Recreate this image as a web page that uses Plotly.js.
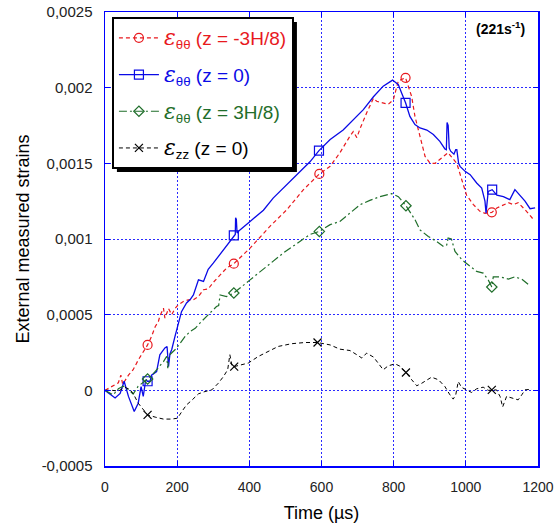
<!DOCTYPE html>
<html>
<head>
<meta charset="utf-8">
<script src="https://cdn.plot.ly/plotly-3.0.1.min.js"></script>
<style>
  html, body { margin: 0; padding: 0; background: #fff; }
  #chart { width: 559px; height: 529px; }
</style>
</head>
<body>
<div id="chart"></div>
<script>
// ---------- data (time in µs, strain) ----------
var xRed = [0,37,44,49,65,78,92,106,118,129,139,148,152,162,166,176,185,194,203,217,231,245,259,273,286,300,319,337,357,402,457,504,550,594,624,651,679,688,698,707,725,744,753,771,785,799,808,813,833,841,850,859,868,878,887,901,915,933,951,961,975,989,1002,1021,1039,1053,1072,1086,1104,1118,1132,1145,1164,1187];
var yRed = [0,0.5e-4,1.0e-4,0.4e-4,1.0e-4,1.36e-4,2.0e-4,2.57e-4,3.0e-4,3.56e-4,4.2e-4,4.55e-4,4.9e-4,5.43e-4,4.77e-4,5.4e-4,5.0e-4,5.4e-4,5.65e-4,5.87e-4,5.98e-4,5.98e-4,6.2e-4,6.65e-4,6.7e-4,7.13e-4,7.6e-4,8.08e-4,8.37e-4,9.4e-4,10.83e-4,11.94e-4,13.26e-4,14.3e-4,14.8e-4,15.7e-4,16.8e-4,17.1e-4,16.7e-4,17.3e-4,18.33e-4,19.3e-4,19.1e-4,19.0e-4,18.9e-4,19.2e-4,20.0e-4,20.45e-4,20.65e-4,20.1e-4,19.4e-4,18.1e-4,17.2e-4,16.35e-4,15.46e-4,15.0e-4,15.0e-4,15.36e-4,15.7e-4,15.4e-4,15.0e-4,13.9e-4,12.9e-4,12.27e-4,11.83e-4,11.7e-4,11.76e-4,12.05e-4,12.27e-4,12.4e-4,12.27e-4,12.4e-4,11.94e-4,11.3e-4];
var markRed = [118,357,594,833,1072];

var xBlue = [0,28,42,53,65,81,92,100,106,113,118,125,129,143,152,166,172,176,180,185,194,203,212,226,236,245,259,273,286,300,314,328,345,357,361,362,364,366,374,402,439,466,504,540,568,593,624,660,688,716,744,771,797,813,822,833,845,859,873,892,910,928,942,946,948,951,954,958,967,972,975,980,984,998,1012,1030,1044,1053,1056,1062,1073,1086,1104,1122,1136,1150,1164,1178,1192];
var yBlue = [0,-0.5e-4,-0.2e-4,0.6e-4,-0.4e-4,-1.4e-4,-0.85e-4,0.25e-4,-0.4e-4,0.7e-4,0.6e-4,0.6e-4,1.0e-4,1.24e-4,2.35e-4,2.8e-4,2.9e-4,1.57e-4,2.4e-4,2.7e-4,3.56e-4,4.33e-4,5.2e-4,5.77e-4,6.0e-4,6.3e-4,7.3e-4,7.2e-4,8.0e-4,8.4e-4,8.85e-4,9.3e-4,9.8e-4,10.24e-4,10.3e-4,11.4e-4,11.3e-4,10.4e-4,10.6e-4,11.16e-4,11.9e-4,12.7e-4,13.6e-4,14.5e-4,15.1e-4,15.84e-4,16.57e-4,17.2e-4,17.9e-4,18.55e-4,19.4e-4,20.1e-4,20.5e-4,20.2e-4,19.65e-4,19.0e-4,18.1e-4,17.56e-4,17.34e-4,17.2e-4,16.9e-4,16.45e-4,15.95e-4,15.9e-4,17.7e-4,17.5e-4,16.0e-4,15.8e-4,15.6e-4,15.9e-4,15.9e-4,15.0e-4,14.8e-4,14.47e-4,14.25e-4,13.7e-4,13.37e-4,12.5e-4,11.7e-4,13.15e-4,13.26e-4,12.9e-4,12.8e-4,12.6e-4,13.26e-4,12.9e-4,12.5e-4,12.0e-4,12.05e-4];
var markBlue = [118,357,593,833,1073];

var xGreen = [0,23,37,51,65,78,92,111,118,134,148,162,171,174,177,194,208,222,236,250,263,277,291,309,315,319,337,357,402,448,494,540,568,594,624,651,679,707,734,762,795,813,834,859,873,896,919,938,947,951,960,970,989,1007,1030,1048,1062,1072,1076,1095,1118,1136,1155,1178];
var yGreen = [0,-0.3e-4,0.1e-4,0.27e-4,0.05e-4,-0.25e-4,0.27e-4,0.6e-4,0.75e-4,1.1e-4,1.47e-4,1.9e-4,2.24e-4,1.47e-4,2.3e-4,2.68e-4,3.1e-4,3.56e-4,3.89e-4,4.1e-4,4.44e-4,4.77e-4,5.1e-4,5.54e-4,5.6e-4,6.3e-4,6.2e-4,6.43e-4,7.3e-4,8.2e-4,9.07e-4,9.84e-4,10.3e-4,10.5e-4,10.95e-4,11.16e-4,11.7e-4,12.27e-4,12.55e-4,12.8e-4,13.0e-4,12.8e-4,12.2e-4,11.28e-4,10.6e-4,10.17e-4,9.84e-4,9.5e-4,9.6e-4,10.07e-4,10.0e-4,9.18e-4,8.63e-4,8.3e-4,7.86e-4,7.75e-4,7.3e-4,6.83e-4,7.5e-4,7.5e-4,7.35e-4,7.5e-4,7.35e-4,6.9e-4];
var markGreen = [118,357,594,834,1072];

var xBlack = [0,20,37,55,70,80,92,106,118,139,162,185,201,213,226,240,259,277,296,314,328,340,344,346,349,352,358,379,397,425,453,480,517,554,589,624,651,679,698,712,725,744,757,771,785,804,817,834,850,864,878,892,905,924,942,956,965,972,979,988,1002,1016,1030,1048,1062,1072,1085,1095,1102,1113,1132,1145,1155,1164,1183];
var yBlack = [0,0,-0.05e-4,0.2e-4,0.05e-4,-0.3e-4,-0.85e-4,-1.3e-4,-1.62e-4,-1.77e-4,-1.9e-4,-1.9e-4,-1.84e-4,-1.4e-4,-0.96e-4,-0.67e-4,-0.23e-4,-0.08e-4,0.03e-4,0.47e-4,0.9e-4,1.36e-4,2.0e-4,2.35e-4,2.0e-4,1.6e-4,1.57e-4,1.69e-4,1.8e-4,2.24e-4,2.57e-4,2.9e-4,3.08e-4,3.16e-4,3.16e-4,3.0e-4,2.72e-4,2.63e-4,2.35e-4,2.13e-4,2.46e-4,2.2e-4,1.8e-4,1.36e-4,1.62e-4,1.75e-4,1.6e-4,1.18e-4,0.7e-4,0.3e-4,0.47e-4,0.7e-4,0.87e-4,0.7e-4,0.25e-4,-0.3e-4,-0.58e-4,-0.3e-4,0.58e-4,0.2e-4,0.03e-4,-0.14e-4,0.1e-4,0.21e-4,0,0.03e-4,0.03e-4,-0.41e-4,-1.1e-4,-0.4e-4,-0.52e-4,-0.63e-4,-0.3e-4,0.03e-4,0.08e-4];
var markBlack = [118,358,589,834,1072];

var seriesNames = [
  '(z = -3H/8)', '(z = 0)', '(z = 3H/8)', '(z = 0)'
];
var seriesSubs = ['θθ','θθ','θθ','zz'];

var xTickVals = [0,200,400,600,800,1000,1200];
var xTickText = ['0','200','400','600','800','1000','1200'];
var yTickVals = [-0.0005,0,0.0005,0.001,0.0015,0.002,0.0025];
var yTickText = ['-0,0005','0','0,0005','0,001','0,0015','0,002','0,0025'];

var rateLabel = '(221s<sup>-1</sup>)';
var xTitle = 'Time (µs)';
var yTitle = 'External measured strains';

// ---------- styling ----------
var FONT = 'Liberation Sans, Arial, sans-serif';
var cRed = '#e8191e', cBlue = '#0a0ae6', cGreen = '#1f6e2a', cBlack = '#000000';
var gridCol = '#2a2aff';

function idx(xs, marks) {
  return marks.map(function (m) { return xs.indexOf(m); });
}
function label(i, col) {
  return '<span style="color:' + col + '"><span style="font-size:22px;font-family:DejaVu Serif"><i>ε</i></span><sub>' +
    seriesSubs[i] + '</sub> ' + seriesNames[i] + '</span>';
}
function trace(xs, ys, marks, i, col, dash, sym, msize) {
  return {
    type: 'scatter', mode: 'lines+markers',
    x: xs, y: ys,
    name: label(i, col),
    legendgroup: 'g' + i,
    line: { color: col, width: 1.2, dash: dash },
    marker: { symbol: sym, size: msize, color: col, line: { color: col, width: 1.2 } },
    selectedpoints: idx(xs, marks),
    selected: { marker: { opacity: 1 } },
    unselected: { marker: { opacity: 0 } },
    hoverinfo: 'x+y'
  };
}

var data = [
  trace(xRed, yRed, markRed, 0, cRed, '4px,3px', 'circle-open', 9),
  trace(xBlue, yBlue, markBlue, 1, cBlue, 'solid', 'square-open', 9),
  trace(xGreen, yGreen, markGreen, 2, cGreen, '8px,3px,2px,3px', 'diamond-open', 8),
  trace(xBlack, yBlack, markBlack, 3, cBlack, '4px,3px', 'x-thin-open', 8)
];
data[1].line.width = 1.3;
data[3].line.width = 1;

var L = 105, R = 21, T = 12, B = 63;
var W = 559 - L - R, H = 529 - T - B;

var axisCommon = {
  showline: true, linecolor: '#0000ff', linewidth: 1.5,
  mirror: 'ticks', ticks: 'inside', ticklen: 5, tickcolor: '#0000ff', tickwidth: 1,
  showgrid: true, gridcolor: gridCol, gridwidth: 1, griddash: '2px,2px',
  zeroline: false, tickmode: 'array',
  tickfont: { family: FONT, size: 14, color: '#222222' },
  fixedrange: true
};

var layout = {
  width: 559, height: 529,
  margin: { l: L, r: R, t: T, b: B },
  paper_bgcolor: '#ffffff', plot_bgcolor: '#ffffff',
  font: { family: FONT, color: '#000' },
  showlegend: true,
  xaxis: Object.assign({}, axisCommon, {
    range: [0, 1200], tickvals: xTickVals, ticktext: xTickText,
    ticklabelstandoff: 8,
    title: { text: xTitle, font: { family: FONT, size: 18, color: '#000' }, standoff: 12 }
  }),
  yaxis: Object.assign({}, axisCommon, {
    range: [-0.0005, 0.0025], tickvals: yTickVals, ticktext: yTickText,
    ticklabelstandoff: 8,
    tickfont: { family: FONT, size: 15, color: '#222222' },
    title: { text: yTitle, font: { family: FONT, size: 18, color: '#000' }, standoff: 7 }
  }),
  legend: {
    x: 0.016, y: 0.989, xanchor: 'left', yanchor: 'top',
    bgcolor: '#ffffff', bordercolor: '#000000', borderwidth: 2,
    font: { family: FONT, size: 19, color: '#000' },
    tracegroupgap: 9, itemwidth: 40,
    traceorder: 'grouped'
  },
  annotations: [{
    xref: 'paper', yref: 'paper', x: 0.975, y: 0.965,
    xanchor: 'right', yanchor: 'middle', showarrow: false,
    text: '<b>' + rateLabel + '</b>',
    font: { family: FONT, size: 14, color: '#000' }
  }]
};

var gd = document.getElementById('chart');
Plotly.newPlot(gd, data, layout, { displayModeBar: false, staticPlot: true }).then(function () {
  var bg = gd.querySelector('.legend .bg');
  if (!bg) return;
  var r = bg.getBoundingClientRect();
  var g = gd.getBoundingClientRect();
  var off = 4;
  var x0 = (r.left - g.left - L + off) / W;
  var x1 = (r.right - g.left - L + off) / W;
  var y0 = 1 - (r.bottom - g.top - T + off) / H;
  var y1 = 1 - (r.top - g.top - T + off) / H;
  return Plotly.relayout(gd, {
    shapes: [{
      type: 'rect', xref: 'paper', yref: 'paper', layer: 'above',
      x0: x0, x1: x1, y0: y0, y1: y1,
      fillcolor: '#000000', line: { width: 0 }
    }]
  });
});
</script>
</body>
</html>
